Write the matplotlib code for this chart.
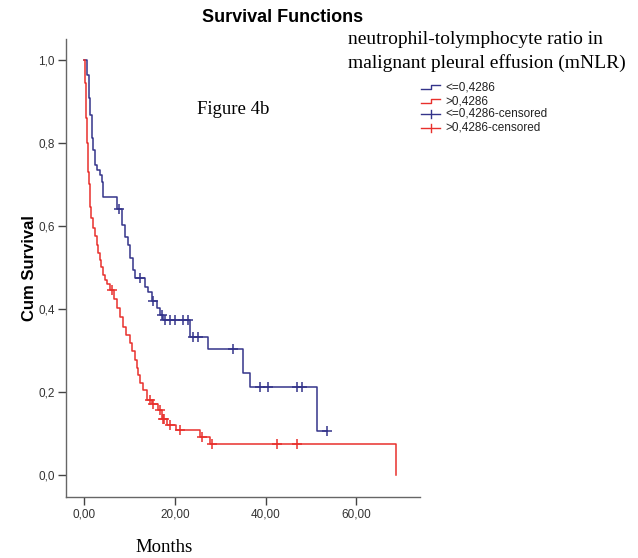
import numpy as np
import matplotlib
matplotlib.use("Agg")
from matplotlib import pyplot as plt
from matplotlib.lines import Line2D

# survival steps (time in months, survival after the drop)
blue_times = [0.6, 1.1, 1.3, 1.8, 2.0, 2.4, 2.9, 3.5, 4.0, 4.2, 7.3, 8.3, 9.0, 9.7,
              10.1, 10.8, 11.2, 13.4, 14.1, 14.9, 16.0, 16.7, 17.4, 23.3, 27.3,
              34.9, 36.5, 51.4]
blue_surv = [0.964, 0.908, 0.867, 0.812, 0.783, 0.747, 0.735, 0.723, 0.706, 0.670,
             0.640, 0.602, 0.573, 0.554, 0.523, 0.494, 0.475, 0.453, 0.441, 0.418,
             0.402, 0.386, 0.373, 0.333, 0.303, 0.245, 0.213, 0.106]
blue_censored = [7.6, 12.3, 15.2, 17.1, 17.8, 18.9, 20.0, 21.8, 22.9, 24.0, 25.1,
                 32.7, 38.7, 40.4, 47.0, 48.1, 53.6]

red_times = [0.1, 0.2, 0.3, 0.4, 0.5, 0.6, 0.7, 0.8, 0.9, 1.1, 1.3, 1.6, 2.0, 2.4,
             2.8, 3.1, 3.5, 3.8, 4.2, 4.6, 5.0, 5.7, 6.5, 7.2, 7.9, 8.6, 9.3, 10.1,
             10.6, 11.2, 11.6, 11.9, 12.4, 13.0, 13.8, 14.9, 16.3, 17.2, 18.2, 20.2,
             25.6, 27.7, 68.8]
red_surv = [0.975, 0.945, 0.92, 0.885, 0.86, 0.825, 0.80, 0.765, 0.73, 0.70, 0.646,
            0.62, 0.595, 0.575, 0.555, 0.535, 0.518, 0.50, 0.482, 0.47, 0.46, 0.446,
            0.425, 0.402, 0.38, 0.357, 0.338, 0.318, 0.298, 0.277, 0.258, 0.241,
            0.222, 0.205, 0.181, 0.170, 0.157, 0.135, 0.120, 0.108, 0.092, 0.075, 0.0]
red_censored = [6.1, 14.5, 15.2, 16.8, 17.4, 17.6, 18.9, 21.1, 26.0, 28.1, 42.4, 47.0]

legend_labels = ["<=0,4286", ">0,4286", "<=0,4286-censored", ">0,4286-censored"]
x_ticks = [0, 20, 40, 60]
y_ticks = [0.0, 0.2, 0.4, 0.6, 0.8, 1.0]

BLUE = "#34348a"
RED = "#e8302c"
W, H = 638, 558


def fx(px):
    return px / W


def fy(py):
    return 1 - py / H


def draw_curve(ax, times, surv, censored, color):
    t = np.array([0.0] + times)
    s = np.array([1.0] + surv)
    if censored and censored[-1] > t[-1]:
        t = np.append(t, censored[-1])
        s = np.append(s, s[-1])
    ax.step(t, s, where="post", color=color, lw=1.1)
    c = np.array(censored)
    cs = s[np.searchsorted(t, c, side="right") - 1]
    ax.plot(c, cs, ls="none", marker="+", ms=6.5, mew=1.1, color=color)


fig = plt.figure(figsize=(W / 100, H / 100), dpi=100)
ax = fig.add_axes([fx(66), fy(497), fx(420) - fx(66), fy(39) - fy(497)])

draw_curve(ax, blue_times, blue_surv, blue_censored, BLUE)
draw_curve(ax, red_times, red_surv, red_censored, RED)

ax.set_xlim(-4, 74)
ax.set_ylim(-0.053, 1.05)
ax.set_xticks(x_ticks)
ax.set_xticklabels(["%d,00" % v for v in x_ticks])
ax.set_yticks(y_ticks)
ax.set_yticklabels([("%.1f" % v).replace(".", ",") for v in y_ticks])
for sp in ["top", "right"]:
    ax.spines[sp].set_visible(False)
for sp in ["left", "bottom"]:
    ax.spines[sp].set_color("#666666")
    ax.spines[sp].set_linewidth(1.0)
ax.tick_params(direction="out", length=6, width=1.0, color="#444444",
               labelsize=8.5, labelcolor="#333333", pad=2)
for lab in ax.get_xticklabels() + ax.get_yticklabels():
    lab.set_family("Liberation Sans")

fig.text(fx(30), fy(268), "Cum Survival", rotation=90, ha="center", va="center",
         family="Liberation Sans", weight="bold", fontsize=12)
fig.text(fx(283), fy(18), "Survival Functions", ha="center", va="center",
         family="Liberation Sans", weight="bold", fontsize=13)
fig.text(fx(348), fy(40), "neutrophil-tolymphocyte ratio in", ha="left", va="center",
         family="Liberation Serif", fontsize=14)
fig.text(fx(348), fy(63), "malignant pleural effusion (mNLR)", ha="left", va="center",
         family="Liberation Serif", fontsize=14)
fig.text(fx(197), fy(110), "Figure 4b", ha="left", va="center",
         family="Liberation Serif", fontsize=13.5)
fig.text(fx(135), fy(548), "Months", ha="left", va="center",
         family="Liberation Serif", fontsize=13.5)

# legend drawn by hand, SPSS style
rows = [87, 101, 114, 128]
colors = [BLUE, RED, BLUE, RED]
for i, (py, lab, col) in enumerate(zip(rows, legend_labels, colors)):
    if i < 2:
        xs = [fx(421), fx(431), fx(431), fx(440)]
        ys = [fy(py + 2), fy(py + 2), fy(py - 2), fy(py - 2)]
        fig.add_artist(Line2D(xs, ys, color=col, lw=1.0, transform=fig.transFigure))
    else:
        fig.add_artist(Line2D([fx(421), fx(440)], [fy(py), fy(py)], color=col, lw=1.0,
                              transform=fig.transFigure))
        fig.add_artist(Line2D([fx(431), fx(431)], [fy(py - 4), fy(py + 4)], color=col,
                              lw=1.0, transform=fig.transFigure))
    fig.text(fx(445), fy(py), lab, ha="left", va="center", family="Liberation Sans",
             fontsize=8.5, color="#222222")

fig.savefig("out.png", dpi=100)
